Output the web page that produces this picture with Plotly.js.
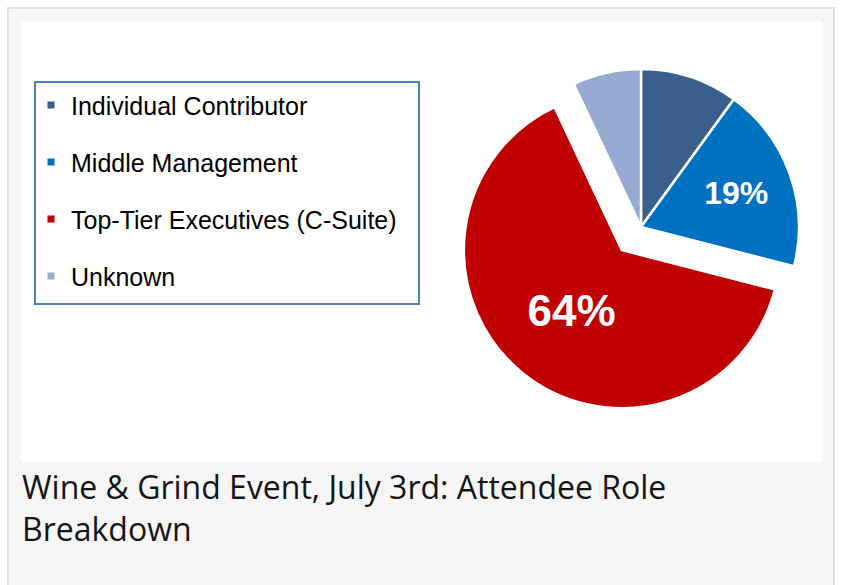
<!DOCTYPE html>
<html><head><meta charset="utf-8">
<script src="https://cdn.plot.ly/plotly-3.0.1.min.js"></script>
<style>html,body{margin:0;padding:0;background:#fff;} #chart{width:841px;height:585px;}</style>
</head><body><div id="chart"></div>
<script>
const categories = ['Individual Contributor', 'Middle Management', 'Top-Tier Executives (C-Suite)', 'Unknown'];
const shares = [10, 19, 64, 7];
const sliceColors = ['#3b5f8c', '#0070c0', '#c00000', '#95abd1'];
const sliceLabelShown = ['none', 'inside', 'inside', 'none'];
const sliceLabelSize = [32, 32, 44, 32];
const slicePull = [0, 0, 0.19, 0];
const captionText = 'Wine & Grind Event, July 3rd: Attendee Role<br>Breakdown';

const pie = {
  type: 'pie', labels: categories, values: shares, sort: false,
  direction: 'clockwise', rotation: 0,
  marker: {colors: sliceColors, line: {color: '#ffffff', width: 2.5}},
  pull: slicePull, textinfo: 'percent', textposition: sliceLabelShown,
  insidetextorientation: 'horizontal',
  textfont: {family: 'Liberation Sans, Arial, sans-serif', size: sliceLabelSize, color: '#ffffff', weight: 'bold'},
  domain: {x: [0.5268, 0.9854], y: [0.1066, 0.9592]},
  showlegend: false, hoverinfo: 'label+percent'
};

const legendTraces = categories.map((c, i) => ({
  type: 'scatter', mode: 'markers', x: [null], y: [null], name: c,
  legendgroup: 'g' + i,
  marker: {symbol: 'square', size: 7, color: sliceColors[i], line: {width: 0}},
  hoverinfo: 'skip'
}));

const layout = {
  width: 841, height: 585,
  margin: {l: 21, r: 0, t: 21, b: 123},
  paper_bgcolor: '#ffffff', plot_bgcolor: 'rgba(0,0,0,0)',
  xaxis: {visible: false, domain: [0, 0.01]},
  yaxis: {visible: false, domain: [0, 0.01]},
  showlegend: true,
  legend: {
    x: 0.0122, y: 0.861, xanchor: 'left', yanchor: 'top',
    bgcolor: 'rgba(0,0,0,0)', borderwidth: 0,
    font: {family: 'Liberation Sans, Arial, sans-serif', size: 25, color: '#000000'},
    tracegroupgap: 21.5, indentation: 0
  },
  title: {
    text: captionText, xref: 'container', yref: 'container',
    x: 22 / 841, xanchor: 'left', y: 1 - 499 / 585, yanchor: 'top',
    font: {family: 'Open Sans, sans-serif', size: 32, color: '#151515'}
  },
  shapes: [
    {type: 'rect', xref: 'paper', yref: 'paper', layer: 'below',
     x0: -0.01585, x1: 0.99146, y0: -0.313, y1: 1.02948,
     fillcolor: '#f6f6f6', line: {color: '#e0e0e0', width: 2}},
    {type: 'rect', xref: 'paper', yref: 'paper', layer: 'below',
     x0: 0, x1: 0.97683, y0: 0, y1: 1,
     fillcolor: '#ffffff', line: {width: 0}},
    {type: 'rect', xref: 'paper', yref: 'paper', layer: 'below',
     x0: 0.01707, x1: 0.4854, y0: 0.3583, y1: 0.8617,
     fillcolor: '#ffffff', line: {color: '#4f81bd', width: 2}}
  ]
};

Plotly.newPlot('chart', [pie].concat(legendTraces), layout, {displayModeBar: false, staticPlot: true});
</script>
</body></html>
